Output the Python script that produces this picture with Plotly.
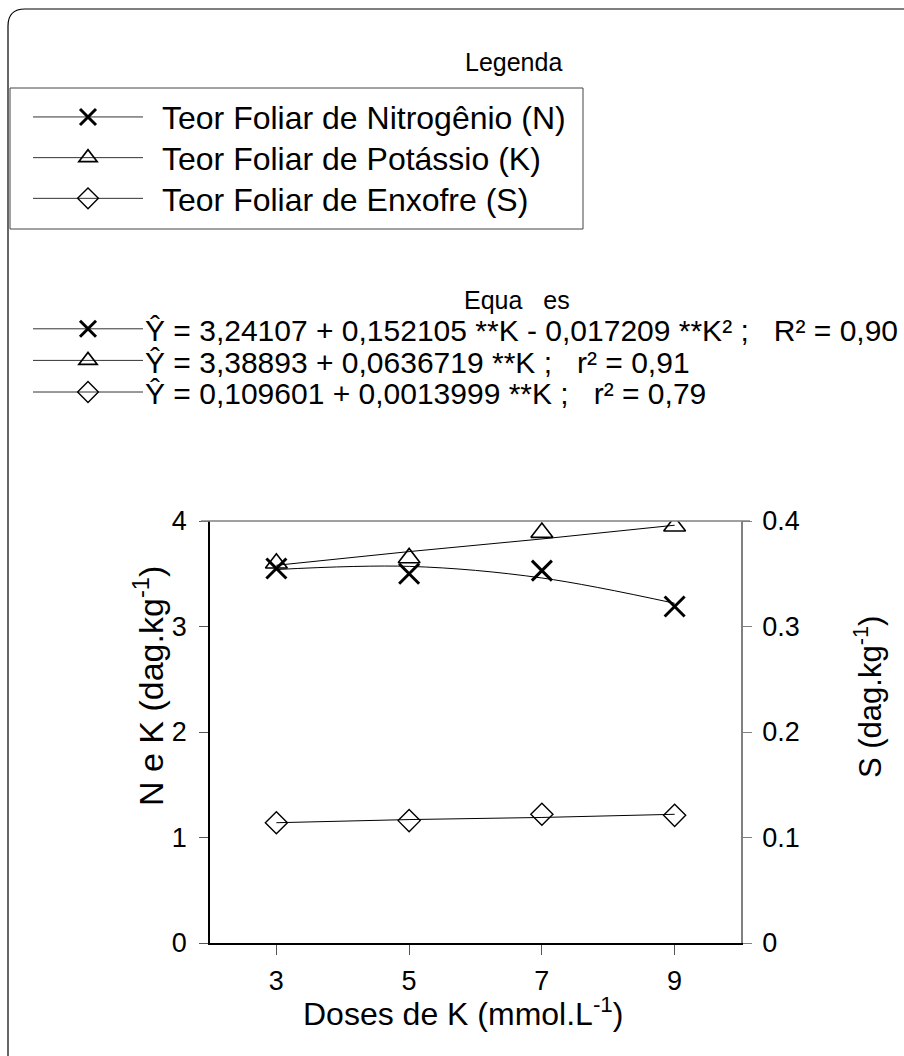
import plotly.graph_objects as go

# ---------------- data ----------------
doses = [3, 5, 7, 9]
n_obs = [3.55, 3.50, 3.53, 3.19]
k_obs = [3.60, 3.65, 3.89, 3.95]
s_obs = [0.114, 0.116, 0.122, 0.121]
n_fit = [3.54, 3.57, 3.46, 3.22]
k_fit = [3.58, 3.71, 3.83, 3.96]
s_fit = [0.114, 0.117, 0.119, 0.122]

x_ticks = [3, 5, 7, 9]
y1_ticks = [0, 1, 2, 3, 4]
y2_ticks = [0, 0.1, 0.2, 0.3, 0.4]
y2_labels = ["0", "0.1", "0.2", "0.3", "0.4"]

legend_names = ["Teor Foliar de Nitrogênio (N)",
                "Teor Foliar de Potássio (K)",
                "Teor Foliar de Enxofre (S)"]
equations = ["Ŷ = 3,24107 + 0,152105 **K - 0,017209 **K² ;\u00a0\u00a0\u00a0R² = 0,90",
             "Ŷ = 3,38893 + 0,0636719 **K ;\u00a0\u00a0\u00a0r² = 0,91",
             "Ŷ = 0,109601 + 0,0013999 **K ;\u00a0\u00a0\u00a0r² = 0,79"]

FONT = "Liberation Sans, Arial, sans-serif"
W, H = 904, 1056
PL, PR, PT, PB = 210, 741, 521, 943  # plot area in px

def px_x(px):
    return (px - PL) / (PR - PL)

def px_y(py):
    return (PB - py) / (PB - PT)

symbols = ["x-thin-open", "triangle-up-open", "diamond-open"]
msizes = [20, 19, 17]
mlw = [3, 1.6, 1.4]

fig = go.Figure()

# fitted lines
fig.add_trace(go.Scatter(x=doses, y=n_fit, mode="lines", line=dict(color="black", width=1, shape="spline"),
                         showlegend=False, hoverinfo="skip"))
fig.add_trace(go.Scatter(x=doses, y=k_fit, mode="lines", line=dict(color="black", width=1),
                         showlegend=False, hoverinfo="skip"))
fig.add_trace(go.Scatter(x=doses, y=s_fit, mode="lines", line=dict(color="black", width=1),
                         showlegend=False, hoverinfo="skip", yaxis="y2"))
# observed
obs = [n_obs, k_obs, s_obs]
for i in range(3):
    fig.add_trace(go.Scatter(x=doses, y=obs[i], mode="markers",
                             marker=dict(symbol=symbols[i], size=msizes[i], color="black",
                                         line=dict(color="black", width=mlw[i])),
                             showlegend=False, yaxis="y2" if i == 2 else "y"))

# legend symbol entries (text drawn as annotations)
for lg in ["legend", "legend2"]:
    for i in range(3):
        fig.add_trace(go.Scatter(x=[None], y=[None], mode="lines+markers", name="\u00a0",
                                 line=dict(color="#333", width=1),
                                 marker=dict(symbol=symbols[i], size=msizes[i], color="black",
                                             line=dict(color="black", width=mlw[i])),
                                 legend=lg))

def ann(text, x, y, size, xanchor="center", yanchor="middle", angle=0):
    return dict(text=text, x=px_x(x), y=px_y(y), xref="paper", yref="paper",
                xanchor=xanchor, yanchor=yanchor, textangle=angle, showarrow=False,
                font=dict(size=size, family=FONT, color="black"))

annotations = []
annotations.append(ann("Legenda", 513, 62, 25))
annotations.append(ann("Equa\u00a0\u00a0\u00a0es", 517, 300, 25))
leg_y = [118, 159, 200]
for i in range(3):
    annotations.append(ann(legend_names[i], 160, leg_y[i], 32, xanchor="left"))
eq_y = [330, 362, 393]
for i in range(3):
    annotations.append(ann(equations[i], 143, eq_y[i], 30, xanchor="left"))
annotations.append(ann("Doses de K (mmol.L<sup>-1</sup>)", 463, 1012, 32))
annotations.append(ann("N e K (dag.kg<sup>-1</sup>)", 148, 686, 34, angle=-90))
annotations.append(ann("S (dag.kg<sup>-1</sup>)", 868, 697, 31, angle=-90))

shapes = [
    # top border of plot (gray)
    dict(type="line", xref="paper", yref="paper", x0=px_x(201), x1=px_x(750), y0=1, y1=1,
         line=dict(color="#808080", width=1.5)),
    # legend box
    dict(type="rect", xref="paper", yref="paper", x0=px_x(10), x1=px_x(583), y0=px_y(88), y1=px_y(229),
         line=dict(color="#444", width=1)),
    # outer rounded frame
    dict(type="path", xref="paper", yref="paper",
         path=f"M {px_x(8)},{px_y(1060)} L {px_x(8)},{px_y(26)} Q {px_x(8)},{px_y(9)} {px_x(25)},{px_y(9)} L {px_x(910)},{px_y(9)}",
         line=dict(color="black", width=1.2)),
]

fig.update_layout(
    width=W, height=H,
    margin=dict(l=PL, r=W - PR, t=PT, b=H - PB, autoexpand=False),
    paper_bgcolor="white", plot_bgcolor="white",
    font=dict(family=FONT, color="black", size=27),
    xaxis=dict(range=[2, 10], tickvals=x_ticks, ticks="outside", ticklen=10, tickcolor="#555",
               showline=True, linecolor="black", linewidth=1.5, showgrid=False, zeroline=False,
               tickfont=dict(size=27), ticklabelstandoff=3),
    yaxis=dict(range=[0, 4], tickvals=y1_ticks, ticks="outside", ticklen=9, tickcolor="#555",
               showline=True, linecolor="black", linewidth=1.5, showgrid=False, zeroline=False,
               tickfont=dict(size=27), ticklabelstandoff=7),
    yaxis2=dict(range=[0, 0.4], tickvals=y2_ticks, ticktext=y2_labels, overlaying="y", side="right",
                ticks="outside", ticklen=9, tickcolor="#808080",
                showline=True, linecolor="#808080", linewidth=1.5, showgrid=False, zeroline=False,
                tickfont=dict(size=27), ticklabelstandoff=5),
    legend=dict(xref="container", yref="container", x=28 / W, y=1 - 91.6 / H, xanchor="left", yanchor="top",
                borderwidth=0, bgcolor="rgba(0,0,0,0)", font=dict(size=29, family=FONT),
                itemwidth=110, tracegroupgap=0),
    legend2=dict(xref="container", yref="container", x=28 / W, y=1 - 308 / H, xanchor="left", yanchor="top",
                 borderwidth=0, bgcolor="rgba(0,0,0,0)", font=dict(size=22, family=FONT),
                 itemwidth=110, tracegroupgap=0),
    annotations=annotations,
    shapes=shapes,
)

fig.write_html("out.html", config={"displayModeBar": False},
               post_script="document.body.style.margin='0';")
